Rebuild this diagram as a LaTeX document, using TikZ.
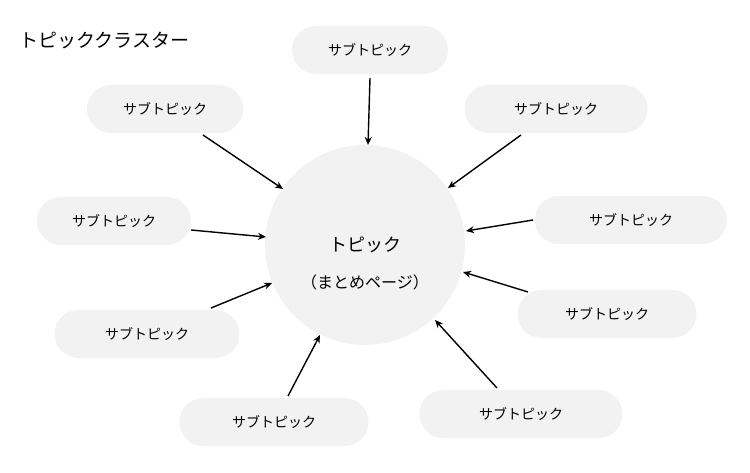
\documentclass[tikz,border=0pt]{standalone}
\usepackage{fontspec}
\setmainfont{Noto Sans CJK JP}
\usetikzlibrary{arrows.meta}
\definecolor{pill}{HTML}{F2F2F2}
\begin{document}
\begin{tikzpicture}[x=1pt,y=-1pt,
 pillbox/.style={fill=pill,rounded corners=24pt,minimum height=48pt,font=\fontsize{14}{16}\selectfont},
 arr/.style={-{Stealth[length=8pt,width=7pt]},line width=1.4pt}]
\path[use as bounding box,fill=white] (0,0) rectangle (750,473);
\node[anchor=west,font=\fontsize{19}{22}\selectfont] (title) at (16,40) {トピッククラスター};
\node[circle,fill=pill,minimum size=200pt] (c) at (365,245) {};
\node[font=\fontsize{18}{20}\selectfont] (t1) at (365,245) {トピック};
\node[font=\fontsize{16}{18}\selectfont] (t2) at (365,282) {（まとめページ）};
\node[pillbox,minimum width=156pt] (p1) at (370,50) {サブトピック};
\node[pillbox,minimum width=156pt] (p2) at (165,109) {サブトピック};
\node[pillbox,minimum width=183pt] (p3) at (556,109) {サブトピック};
\node[pillbox,minimum width=154pt] (p4) at (114,221) {サブトピック};
\node[pillbox,minimum width=192pt] (p5) at (631,220) {サブトピック};
\node[pillbox,minimum width=185pt] (p6) at (147,334) {サブトピック};
\node[pillbox,minimum width=179pt] (p7) at (607,314) {サブトピック};
\node[pillbox,minimum width=189pt] (p8) at (274,422) {サブトピック};
\node[pillbox,minimum width=203pt] (p9) at (521,414) {サブトピック};
\coordinate (a1) at (370,78); \coordinate (b1) at (368,145);
\coordinate (a2) at (203,135); \coordinate (b2) at (283,189);
\coordinate (a3) at (521,135); \coordinate (b3) at (448,188);
\coordinate (a4) at (191,230); \coordinate (b4) at (266,237);
\coordinate (a5) at (533,220); \coordinate (b5) at (466,231);
\coordinate (a6) at (211,308); \coordinate (b6) at (272,283);
\coordinate (a7) at (528,292); \coordinate (b7) at (463,272);
\coordinate (a8) at (288,396); \coordinate (b8) at (320,335);
\coordinate (a9) at (497,388); \coordinate (b9) at (435,320);
\foreach \i in {1,...,9} {\draw[arr] (a\i) -- (b\i);}
\end{tikzpicture}
\end{document}
